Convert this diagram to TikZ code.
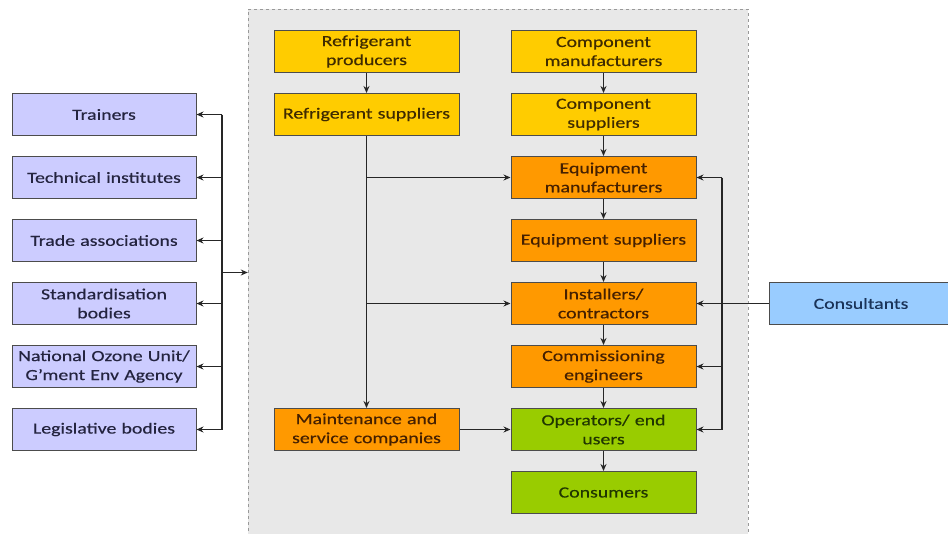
\documentclass[tikz,border=0pt]{standalone}
\usepackage{fontspec}
\setmainfont{Carlito}[FakeStretch=1.28, FakeBold=0.4]
\usetikzlibrary{arrows.meta}
\definecolor{actorfill}{HTML}{CCCCFF}
\definecolor{actortext}{HTML}{24243F}
\definecolor{supplyfill}{HTML}{FFCC00}
\definecolor{supplytext}{HTML}{3F2B00}
\definecolor{equipfill}{HTML}{FF9900}
\definecolor{equiptext}{HTML}{452000}
\definecolor{userfill}{HTML}{99CC00}
\definecolor{usertext}{HTML}{203600}
\definecolor{consultfill}{HTML}{99CCFF}
\definecolor{consulttext}{HTML}{1A3358}
\tikzset{
  box/.style={
    draw=black!70,
    line width=1pt,
    minimum width=185pt,
    minimum height=42pt,
    text width=183pt,
    align=center,
    inner sep=0pt,
    font=\fontsize{15.5}{19}\selectfont
  },
  actor box/.style={box, fill=actorfill, text=actortext, minimum width=184pt},
  supply box/.style={box, fill=supplyfill, text=supplytext},
  equip box/.style={box, fill=equipfill, text=equiptext},
  user box/.style={box, fill=userfill, text=usertext},
  consult box/.style={box, fill=consultfill, text=consulttext, minimum width=174pt},
  region/.style={
    draw=black!40,
    dashed,
    fill=black!9,
    minimum width=500pt,
    minimum height=527pt,
    inner sep=0pt
  },
  flow/.style={
    -{Stealth[length=7pt,width=6pt]},
    line width=1.1pt,
    color=black!85
  },
  bus/.style={
    line width=1.1pt,
    color=black!85
  }
}

\begin{document}
\begin{tikzpicture}[x=1pt, y=-1pt]
    \useasboundingbox[fill=white] (0,0) rectangle (948,533);

    % 1. supply chain area
    \node[region] (chain) at (498,272.5) {};

    % 2. left column: actors around the chain
    \node[actor box] (trn)   at (104,114.5) {Trainers};
    \node[actor box] (tech)  at (104,177.5) {Technical institutes};
    \node[actor box] (trade) at (104,240.5) {Trade associations};
    \node[actor box] (std)   at (104,303.5) {Standardisation\\bodies};
    \node[actor box] (nou)   at (104,366.5) {National Ozone Unit/\\G'ment Env Agency};
    \node[actor box] (leg)   at (104,429.5) {Legislative bodies};

    % 3. refrigerant side
    \node[supply box] (rprod) at (366.5,51.5)  {Refrigerant\\producers};
    \node[supply box] (rsup)  at (366.5,114.5) {Refrigerant suppliers};
    \node[equip box]  (maint) at (366.5,429.5) {Maintenance and\\service companies};

    % 4. equipment side
    \node[supply box] (cman) at (603.5,51.5)  {Component\\manufacturers};
    \node[supply box] (csup) at (603.5,114.5) {Component\\suppliers};
    \node[equip box]  (eman) at (603.5,177.5) {Equipment\\manufacturers};
    \node[equip box]  (esup) at (603.5,240.5) {Equipment suppliers};
    \node[equip box]  (inst) at (603.5,303.5) {Installers/\\contractors};
    \node[equip box]  (comm) at (603.5,366.5) {Commissioning\\engineers};
    \node[user box]   (oper) at (603.5,429.5) {Operators/ end\\users};
    \node[user box]   (cons) at (603.5,492.5) {Consumers};

    % 5. consultants outside
    \node[consult box] (cslt) at (861,303.5) {Consultants};

    % 6. main flows
    \draw[flow] (rprod) -- (rsup);
    \draw[flow] (rsup) -- (maint);
    \draw[flow] (cman) -- (csup);
    \draw[flow] (csup) -- (eman);
    \draw[flow] (eman) -- (esup);
    \draw[flow] (esup) -- (inst);
    \draw[flow] (inst) -- (comm);
    \draw[flow] (comm) -- (oper);
    \draw[flow] (oper) -- (cons);
    \draw[flow] (maint) -- (oper);

    % branches off the refrigerant line
    \coordinate (rb1) at (rsup.south |- eman.west);
    \coordinate (rb2) at (rsup.south |- inst.west);
    \draw[flow] (rb1) -- (eman);
    \draw[flow] (rb2) -- (inst);

    % 7. left bus
    \coordinate (lbus) at (222,0);
    \draw[bus] (lbus |- trn.east) -- (lbus |- leg.east);
    \foreach \n in {trn,tech,trade,std,nou,leg}{
      \draw[flow] (lbus |- \n.east) -- (\n.east);
    }
    \draw[flow] (lbus |- chain.west) -- (chain.west);

    % 8. right bus from consultants
    \coordinate (rbus) at (722,0);
    \draw[bus] (rbus |- eman.east) -- (rbus |- oper.east);
    \foreach \n in {eman,comm,oper}{
      \draw[flow] (rbus |- \n.east) -- (\n.east);
    }
    \draw[flow, line width=1.5pt] (cslt) -- (inst);

\end{tikzpicture}
\end{document}
